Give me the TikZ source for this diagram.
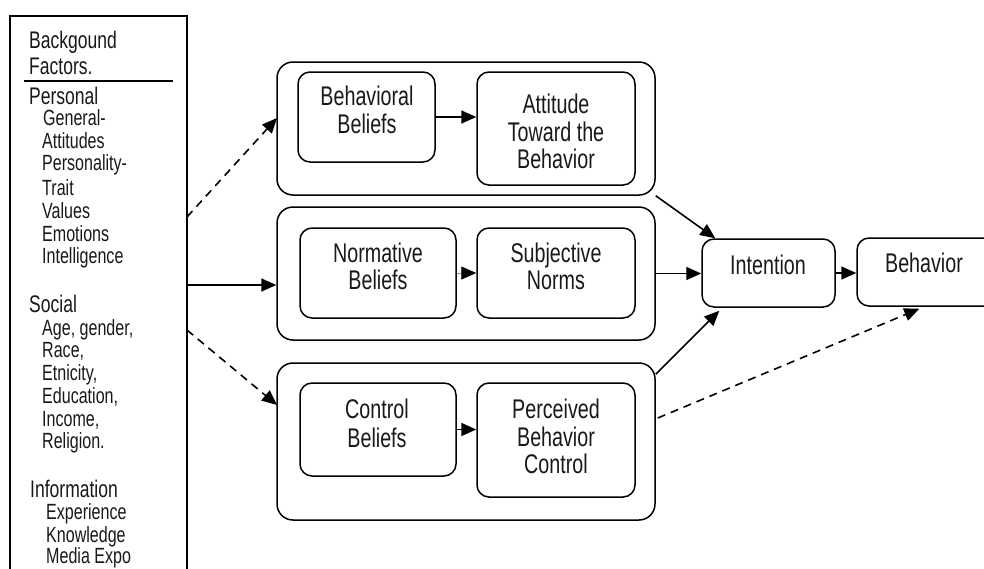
\documentclass[tikz,border=0pt]{standalone}
\usepackage{fontspec}
\setmainfont[FakeStretch=0.73]{Liberation Sans}
\usetikzlibrary{arrows.meta,calc}
\newcommand\mysizeMain{\fontsize{27}{28}\selectfont}
\newcommand\mysizeHead{\fontsize{24}{26}\selectfont}
\newcommand\mysizeSub{\fontsize{22}{23}\selectfont}
\begin{document}
\begin{tikzpicture}[x=1pt,y=-1pt,
  txt/.style={font=\mysizeMain, text=black!90, inner sep=0, anchor=base},
  head/.style={font=\mysizeHead, text=black!90, inner sep=0, anchor=base west},
  sub/.style={font=\mysizeSub, text=black!90, inner sep=0, anchor=base west},
  box/.style={draw, line width=1.5pt, rounded corners=12pt, inner sep=0},
  grp/.style={draw, line width=1.5pt, rounded corners=16pt, inner sep=0},
  arr/.style={line width=1.6pt, -{Triangle[length=15pt,width=13pt]}},
  dsh/.style={arr, dash pattern=on 8pt off 6pt}
]
\clip (0,0) rectangle (984,568);
\fill[white] (0,0) rectangle (984,568);

% background factors box
\node[draw, line width=1.5pt, minimum width=177pt, minimum height=584pt, inner sep=0] (bg) at (98.5,308) {};
\draw[line width=1.3pt] (24,81) -- (173,81);
\node[head] (l1) at (29,48) {Backgound};
\node[head] (l2) at (29,74) {Factors.};
\node[head] (l3) at (29,104) {Personal};
\node[sub] (l4) at (43,125) {General-};
\node[sub] (l5) at (42,148) {Attitudes};
\node[sub] (l6) at (42,170) {Personality-};
\node[sub] (l7) at (42,195) {Trait};
\node[sub] (l8) at (42,218) {Values};
\node[sub] (l9) at (42,241) {Emotions};
\node[sub] (l10) at (42,263) {Intelligence};
\node[head] (l11) at (29,312) {Social};
\node[sub] (l12) at (42,335) {Age, gender,};
\node[sub] (l13) at (42,357) {Race,};
\node[sub] (l14) at (42,380) {Etnicity,};
\node[sub] (l15) at (42,403) {Education,};
\node[sub] (l16) at (42,426) {Income,};
\node[sub] (l17) at (42,448) {Religion.};
\node[head] (l18) at (30,497) {Information};
\node[sub] (l19) at (46,519) {Experience};
\node[sub] (l20) at (46,542) {Knowledge};
\node[sub] (l21) at (46,563) {Media Expo};

% groups
\node[grp, minimum width=378pt, minimum height=133pt] (g1) at (466,128.5) {};
\node[grp, minimum width=378pt, minimum height=133pt] (g2) at (466,273.5) {};
\node[grp, minimum width=378pt, minimum height=157pt] (g3) at (466,441.5) {};

% inner boxes
\node[box, minimum width=137pt, minimum height=90pt] (bb) at (366.5,117) {};
\node[box, minimum width=158pt, minimum height=113pt] (att) at (556,128.5) {};
\node[box, minimum width=156pt, minimum height=90pt] (nb) at (378,273) {};
\node[box, minimum width=158pt, minimum height=90pt] (sn) at (556,273) {};
\node[box, minimum width=156pt, minimum height=93pt] (cb) at (378,429.5) {};
\node[box, minimum width=158pt, minimum height=114pt] (pbc) at (556,440) {};
\node[box, minimum width=133pt, minimum height=68pt] (int) at (768.5,273) {};
\node[box, minimum width=170pt, minimum height=68pt] (beh) at (942,272) {};

% texts
\node[txt] (t1) at (367,105) {Behavioral};
\node[txt] (t2) at (367,133) {Beliefs};
\node[txt] (t3) at (556,113) {Attitude};
\node[txt] (t4) at (556,141) {Toward the};
\node[txt] (t5) at (556,168) {Behavior};
\node[txt] (t6) at (378,262) {Normative};
\node[txt] (t7) at (378,289) {Beliefs};
\node[txt] (t8) at (556,262) {Subjective};
\node[txt] (t9) at (556,289) {Norms};
\node[txt] (t10) at (377,418) {Control};
\node[txt] (t11) at (377,447) {Beliefs};
\node[txt] (t12) at (556,418) {Perceived};
\node[txt] (t13) at (556,446) {Behavior};
\node[txt] (t14) at (556,473) {Control};
\node[txt] (t15) at (768,274) {Intention};
\node[txt] (t16) at (924,272) {Behavior};

% inner arrows
\draw[arr] (bb.east) -- (bb.east -| att.west);
\draw[line width=0.8pt, draw=black!45, -{Triangle[length=15pt,width=13pt,color=black]}] (nb.east) -- (nb.east -| sn.west);
\draw[arr] (cb.east) -- (cb.east -| pbc.west);

% from background box
\coordinate (s1) at (187,217);
\coordinate (e1) at (277,118);
\coordinate (s2) at (187,285);
\coordinate (s3) at (187,330);
\coordinate (e3) at (277,405);
\draw[dsh] (s1) -- (e1);
\draw[arr] (s2) -- (s2 -| g2.west);
\draw[dsh] (s3) -- (e3);

% to intention / behavior
\draw[arr] (g1.south east) -- ($(int.north west)+(14,0)$);
\draw[arr] (g2.east) -- (g2.east -| int.west);
\draw[arr] ($(g3.north east)+(0,12)$) -- ($(int.south west)+(18,3)$);
\draw[arr] (int.east) -- (int.east -| beh.west);
\draw[dsh] ($(g3.east)+(2,-23.5)$) -- ($(beh.south west)+(63,2)$);
\end{tikzpicture}
\end{document}
